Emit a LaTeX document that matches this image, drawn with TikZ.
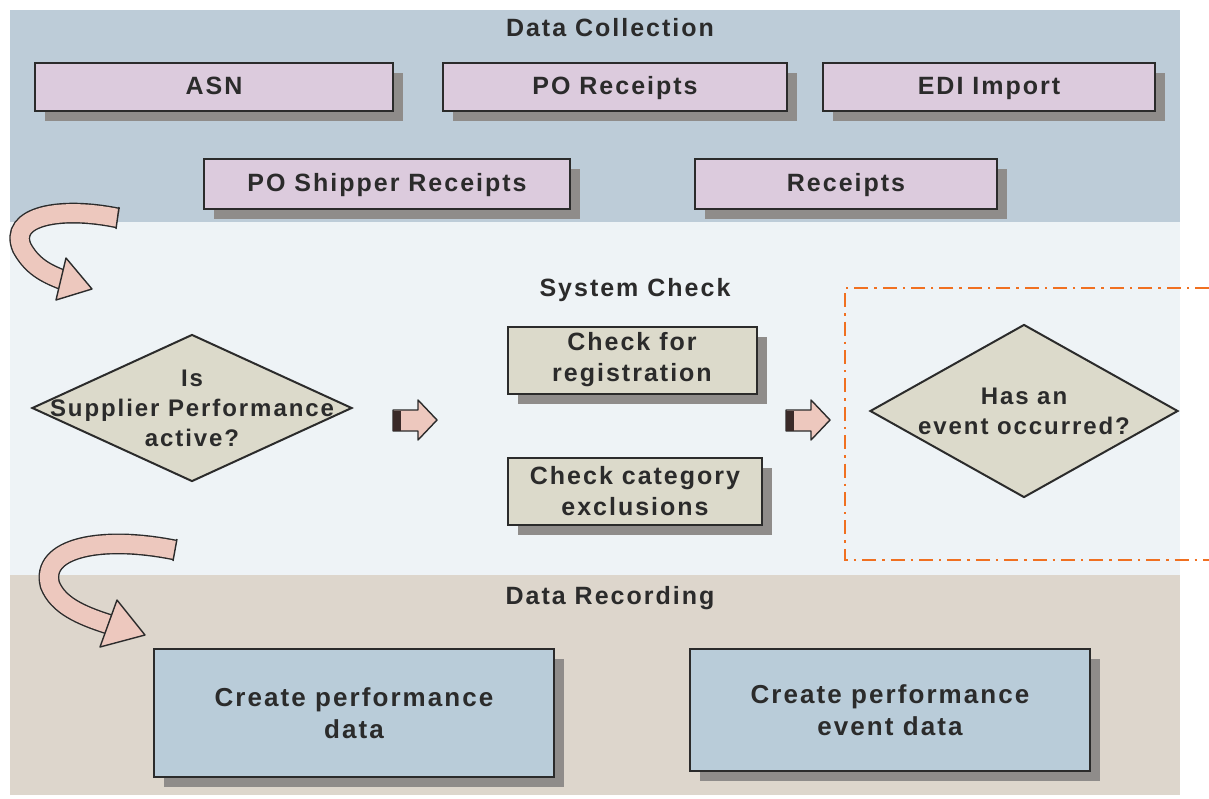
\documentclass[tikz,border=0pt]{standalone}
\usepackage{fontspec}
\setmainfont{Liberation Sans}[LetterSpace=8]
\usetikzlibrary{shapes.geometric,shadows}
\definecolor{topband}{HTML}{BDCCD8}
\definecolor{midband}{HTML}{EEF3F6}
\definecolor{botband}{HTML}{DDD6CC}
\definecolor{lavbox}{HTML}{DCCBDD}
\definecolor{chkbox}{HTML}{DCDACB}
\definecolor{bluebox}{HTML}{B9CCD9}
\definecolor{shadowgrey}{HTML}{8F8C8A}
\definecolor{edge}{HTML}{2B2B2B}
\definecolor{orng}{HTML}{F07020}
\definecolor{apink}{HTML}{EDC8BE}
\definecolor{adark}{HTML}{3A2A28}
\tikzset{
  box/.style={draw=edge, line width=1pt, inner sep=2pt, align=center,
    font=\bfseries\fontsize{12.5}{15.5}\selectfont, text=edge,
    drop shadow={shadow xshift=5pt, shadow yshift=-5pt, opacity=1, fill=shadowgrey}},
  onel/.style={text height=0.72em, text depth=0pt},
  title/.style={font=\bfseries\fontsize{12.5}{14}\selectfont, text=edge},
  dia/.style={diamond, draw=edge, line width=1pt, fill=chkbox, inner sep=0pt},
  dtext/.style={align=center, font=\bfseries\fontsize{12}{15}\selectfont, text=edge},
  curved/.style={line width=0.7pt, draw=edge, double=apink, double distance=9pt},
  ahead/.style={fill=apink, draw=edge, line width=0.7pt, line join=round},
  orangebox/.style={draw=orng, line width=1.3pt, dash pattern=on 7pt off 3pt on 1.2pt off 3pt}
}
\begin{document}
\begin{tikzpicture}[x=0.5pt,y=-0.5pt]
\useasboundingbox (0,0) rectangle (1209,798);
\fill[white] (0,0) rectangle (1209,798);
% bands
\fill[topband] (10,10) rectangle (1180,222);
\fill[midband] (10,222) rectangle (1180,575);
\fill[botband] (10,575) rectangle (1180,795);
% titles
\node[title] (tdc) at (610,28) {Data Collection};
\node[title] (tsc) at (635,290) {System Check};
\node[title] (tdr) at (610,598) {Data Recording};
% data collection boxes
\node[box, onel, fill=lavbox, minimum width=179pt, minimum height=24pt] (asn) at (214,87) {ASN};
\node[box, onel, fill=lavbox, minimum width=172pt, minimum height=24pt] (por) at (615,87) {PO Receipts};
\node[box, onel, fill=lavbox, minimum width=166pt, minimum height=24pt] (edi) at (989,87) {EDI Import};
\node[box, onel, fill=lavbox, minimum width=183pt, minimum height=25pt] (psr) at (387,184) {PO Shipper Receipts};
\node[box, onel, fill=lavbox, minimum width=151pt, minimum height=25pt] (rec) at (846,184) {Receipts};
% system check
\node[dia, minimum width=160pt, minimum height=73.5pt] (d1) at (192,408) {};
\node[dtext] (d1t) at (d1) {Is\\Supplier Performance\\active?};
\node[box, fill=chkbox, minimum width=124.5pt, minimum height=33.5pt] (reg) at (632,360) {Check for\\registration};
\node[box, fill=chkbox, minimum width=127pt, minimum height=33.5pt] (cat) at (635,491) {Check category\\exclusions};
\node[dia, minimum width=154pt, minimum height=86.5pt] (d2) at (1024,411) {};
\node[dtext] (d2t) at (d2) {Has an\\event occurred?};
% orange dash-dot frame (open to the right)
\draw[orangebox] (1209,288) -- (845,288) -- (845,560) -- (1209,560);
% small block arrows
\foreach \xx/\nm in {393/a1, 786/a2}{
  \path[ahead] (\xx,410) -- (\xx+25,410) -- (\xx+25,400) -- (\xx+44,420) -- (\xx+25,440) -- (\xx+25,431) -- (\xx,431) -- cycle;
  \fill[adark] (\xx,410.5) rectangle (\xx+8,430.5);
}
% bottom boxes
\node[box, fill=bluebox, minimum width=200pt, minimum height=64pt, font=\bfseries\fontsize{13}{16}\selectfont] (cpd) at (354,713) {Create performance\\data};
\node[box, fill=bluebox, minimum width=200pt, minimum height=61pt, font=\bfseries\fontsize{13}{16}\selectfont] (cped) at (890,710) {Create performance\\event data};
% curved arrows
\draw[curved] (118,218) .. controls (60,206) and (8,216) .. (22,248) .. controls (32,266) and (45,273) .. (63,280);
\path[ahead] (66,258) -- (92,289) -- (56,300) -- cycle;
\draw[edge, line width=0.7pt] (119,207) -- (116,229);
\draw[curved] (175,550) .. controls (100,535) and (40,548) .. (50,585) .. controls (58,605) and (80,615) .. (108,624);
\path[ahead] (117,600) -- (145,635) -- (100,647) -- cycle;
\draw[edge, line width=0.7pt] (177,539) -- (173,561);
\end{tikzpicture}
\end{document}
